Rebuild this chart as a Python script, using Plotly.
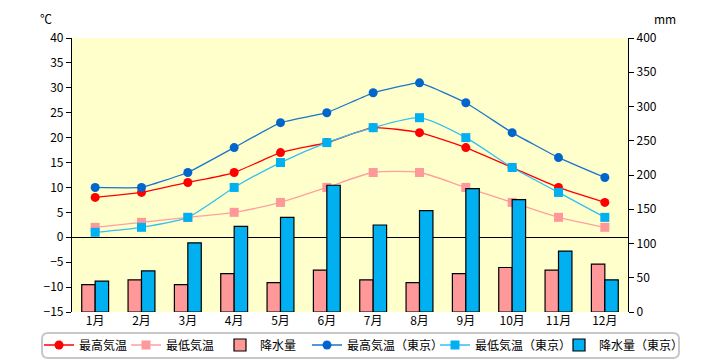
import plotly.graph_objects as go

months = ["1月", "2月", "3月", "4月", "5月", "6月", "7月", "8月", "9月", "10月", "11月", "12月"]
max_temp = [8, 9, 11, 13, 17, 19, 22, 21, 18, 14, 10, 7]
min_temp = [2, 3, 4, 5, 7, 10, 13, 13, 10, 7, 4, 2]
rain = [40, 47, 40, 56, 43, 61, 47, 43, 56, 65, 61, 70]
max_tokyo = [10, 10, 13, 18, 23, 25, 29, 31, 27, 21, 16, 12]
min_tokyo = [1, 2, 4, 10, 15, 19, 22, 24, 20, 14, 9, 4]
rain_tokyo = [45, 60, 101, 125, 138, 185, 127, 148, 180, 164, 89, 47]

FONT = "Noto Sans CJK JP"
L, R, T, B = 72, 92, 38, 48
W, H = 720, 360
pw, ph = W - L - R, H - T - B

def px_x(px):
    return (px - L) / pw

def px_y(py):
    return (H - B - py) / ph

fig = go.Figure()

def line(name, y, color, lcolor, symbol, leg, smooth):
    fig.add_trace(go.Scatter(
        x=months, y=y, name=name, mode="lines+markers", legend=leg,
        line=dict(color=lcolor, width=1.3, shape="spline", smoothing=smooth),
        marker=dict(color=color, size=9, symbol=symbol, line=dict(width=0)),
        yaxis="y"))

fig.add_trace(go.Bar(x=months, y=rain, name="降水量", yaxis="y2", legend="legend3",
                     marker=dict(color="#FF9999", line=dict(color="black", width=1.2))))
fig.add_trace(go.Bar(x=months, y=rain_tokyo, name="降水量（東京）", yaxis="y2", legend="legend6",
                     marker=dict(color="#00B0F0", line=dict(color="black", width=1.2))))
line("最高気温", max_temp, "#FF0000", "#FF0000", "circle", "legend", 0.5)
line("最低気温", min_temp, "#FF9999", "#FFA0A0", "square", "legend2", 0.6)
line("最高気温（東京）", max_tokyo, "#0066CC", "#1A75C8", "circle", "legend4", 0.3)
line("最低気温（東京）", min_tokyo, "#00B0F0", "#33BFF0", "square", "legend5", 0.6)

# rounded legend box
x0, x1 = px_x(42), px_x(679)
y0, y1 = px_y(358), px_y(333)
r = 6 / pw
ry = 6 / ph
path = (f"M {x0+r},{y1} L {x1-r},{y1} Q {x1},{y1} {x1},{y1-ry} "
        f"L {x1},{y0+ry} Q {x1},{y0} {x1-r},{y0} L {x0+r},{y0} "
        f"Q {x0},{y0} {x0},{y0+ry} L {x0},{y1-ry} Q {x0},{y1} {x0+r},{y1} Z")

leg_starts = [50, 137, 231, 318, 446, 570]
legends = {}
for i, sx in enumerate(leg_starts):
    key = "legend" if i == 0 else f"legend{i+1}"
    legends[key] = dict(orientation="h", x=px_x(sx - 11), y=px_y(345),
                        xanchor="left", yanchor="middle",
                        font=dict(size=12, family=FONT), bgcolor="rgba(0,0,0,0)",
                        borderwidth=0, itemwidth=30)

fig.update_layout(
    width=W, height=H,
    margin=dict(l=L, r=R, t=T, b=B, autoexpand=False),
    paper_bgcolor="white", plot_bgcolor="#FFFFCC",
    font=dict(family=FONT, size=12, color="black"),
    barmode="group", bargap=0.42, bargroupgap=0,
    showlegend=True,
    xaxis=dict(range=[-0.5, 11.5], showline=False, ticks="", showgrid=False,
               tickfont=dict(size=12), fixedrange=True),
    yaxis=dict(range=[-15, 40], dtick=5, showgrid=False, zeroline=True,
               zerolinecolor="black", zerolinewidth=1.2,
               showline=True, linecolor="black", linewidth=1.2,
               ticks="outside", ticklen=5, tickcolor="black", tickfont=dict(size=12)),
    yaxis2=dict(range=[0, 400], dtick=50, overlaying="y", side="right",
                showgrid=False, zeroline=False,
                showline=True, linecolor="black", linewidth=1.2,
                ticks="outside", ticklen=5, tickcolor="black", tickfont=dict(size=12)),
    shapes=[dict(type="path", path=path, xref="paper", yref="paper",
                 line=dict(color="#C8C8C8", width=2), fillcolor="rgba(0,0,0,0)")],
    annotations=[
        dict(text="℃", x=px_x(46), y=px_y(18), xref="paper", yref="paper",
             xanchor="center", yanchor="middle", showarrow=False, font=dict(size=12)),
        dict(text="mm", x=px_x(665), y=px_y(18), xref="paper", yref="paper",
             xanchor="center", yanchor="middle", showarrow=False, font=dict(size=12)),
    ],
    **legends,
)

fig.write_html("out.html", config={"displayModeBar": False},
               post_script="document.body.style.margin='0';")
